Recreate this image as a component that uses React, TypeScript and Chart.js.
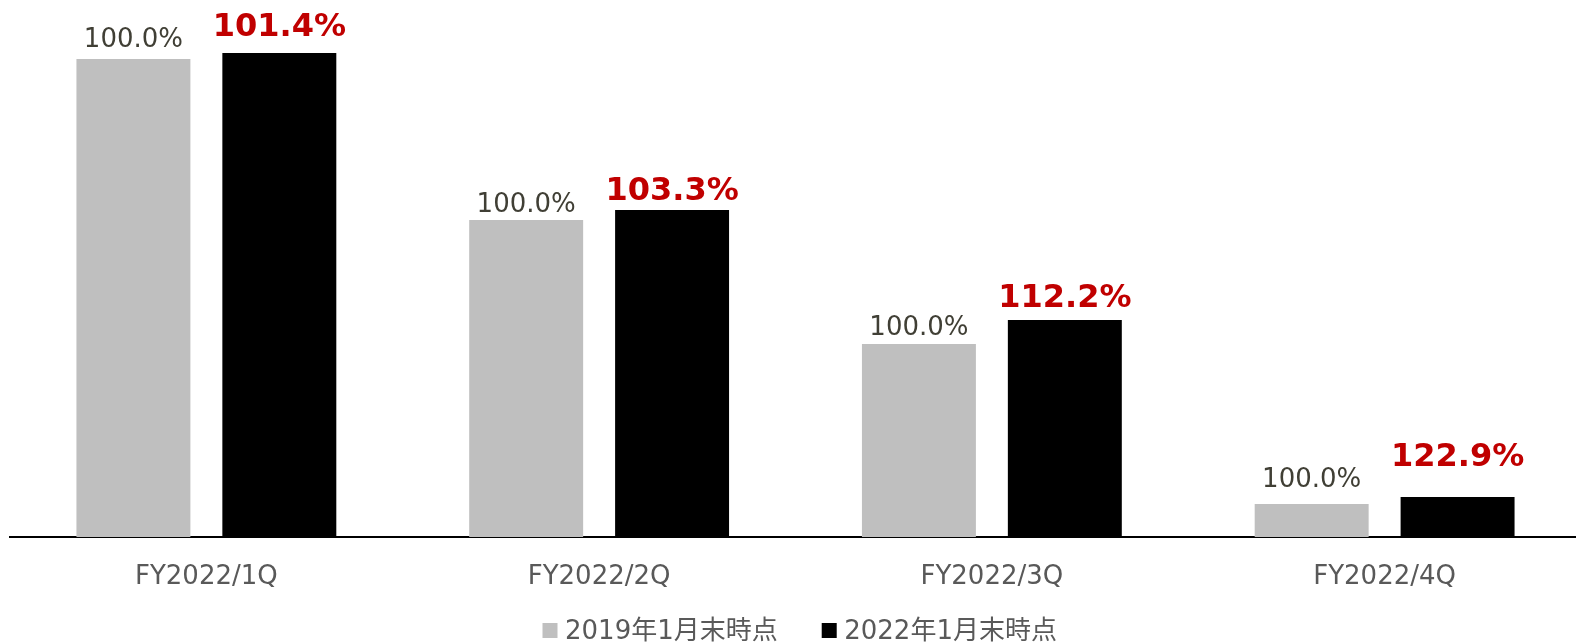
import { useEffect, useRef } from "react";
import { Chart, registerables } from "chart.js";

Chart.register(...registerables);

const categories = ["FY2022/1Q", "FY2022/2Q", "FY2022/3Q", "FY2022/4Q"];
const seriesNames = ["2019年1月末時点", "2022年1月末時点"];
// bar heights (relative units)
const values2019 = [478, 317, 193, 33];
const values2022 = [484, 327, 217, 40];
const labels2019 = ["100.0%", "100.0%", "100.0%", "100.0%"];
const labels2022 = ["101.4%", "103.3%", "112.2%", "122.9%"];

const GRAY = "#bfbfbf";
const BLACK = "#000000";
const FONT = "'DejaVu Sans', 'Noto Sans CJK JP', sans-serif";

const valueLabelPlugin = {
  id: "valueLabels",
  afterDatasetsDraw(chart: any, _args: any, opts: any) {
    const ctx = chart.ctx;
    chart.data.datasets.forEach((_ds: any, di: number) => {
      const meta = chart.getDatasetMeta(di);
      const cfg = opts.styles[di];
      meta.data.forEach((bar: any, i: number) => {
        ctx.save();
        ctx.font = cfg.font;
        ctx.fillStyle = cfg.color;
        ctx.textAlign = "center";
        ctx.textBaseline = "alphabetic";
        ctx.fillText(cfg.texts[i], bar.x, bar.y - cfg.gaps[i]);
        ctx.restore();
      });
    });
  },
};

const customLegendPlugin = {
  id: "customLegend",
  afterDraw(chart: any, _args: any, opts: any) {
    const ctx = chart.ctx;
    ctx.save();
    ctx.font = opts.font;
    ctx.textBaseline = "alphabetic";
    ctx.textAlign = "left";
    let x = opts.startX;
    chart.data.datasets.forEach((ds: any) => {
      ctx.fillStyle = ds.backgroundColor;
      ctx.fillRect(x, opts.boxTop, opts.boxWidth, opts.boxHeight);
      const tx = x + opts.boxWidth + opts.textGap;
      ctx.fillStyle = opts.color;
      ctx.fillText(ds.label, tx, opts.baseline);
      x = tx + ctx.measureText(ds.label).width + opts.itemGap;
    });
    ctx.restore();
  },
};

export default function App() {
  const ref = useRef<HTMLCanvasElement | null>(null);

  useEffect(() => {
    if (!ref.current) return;
    const chart = new Chart(ref.current, {
      type: "bar",
      data: {
        labels: categories,
        datasets: [
          {
            label: seriesNames[0],
            data: values2019,
            backgroundColor: GRAY,
            categoryPercentage: 0.743,
            barPercentage: 0.781,
          },
          {
            label: seriesNames[1],
            data: values2022,
            backgroundColor: BLACK,
            categoryPercentage: 0.743,
            barPercentage: 0.781,
          },
        ],
      },
      options: {
        animation: false,
        responsive: true,
        maintainAspectRatio: false,
        layout: { padding: { left: 10, right: 9, top: 0, bottom: 47 } },
        scales: {
          x: {
            grid: { display: false, drawTicks: false },
            border: { display: true, color: "#000000", width: 2 },
            ticks: {
              color: "#595959",
              font: { family: FONT, size: 26 },
              padding: 25,
            },
            afterFit(scale: any) {
              scale.height = 60;
            },
          },
          y: {
            display: false,
            min: 0,
            max: 537,
          },
        },
        plugins: {
          legend: { display: false },
          tooltip: { enabled: false },
          valueLabels: {
            styles: [
              {
                font: `26px ${FONT}`,
                color: "#403f35",
                texts: labels2019,
                gaps: [12, 8, 9, 17],
              },
              {
                font: `bold 32px ${FONT}`,
                color: "#c00000",
                texts: labels2022,
                gaps: [17, 10, 13, 31],
              },
            ],
          },
          customLegend: {
            font: `26px ${FONT}`,
            color: "#595959",
            startX: 542.5,
            boxTop: 623,
            boxWidth: 15,
            boxHeight: 15,
            textGap: 7.5,
            itemGap: 44,
            baseline: 639,
          },
        },
      } as any,
      plugins: [valueLabelPlugin, customLegendPlugin],
    });
    return () => chart.destroy();
  }, []);

  return (
    <div
      style={{
        position: "fixed",
        left: 0,
        top: 0,
        width: 1576,
        height: 644,
        overflow: "hidden",
        background: "#ffffff",
      }}
    >
      <div style={{ position: "relative", width: 1590, height: 644 }}>
        <canvas ref={ref} />
      </div>
    </div>
  );
}
